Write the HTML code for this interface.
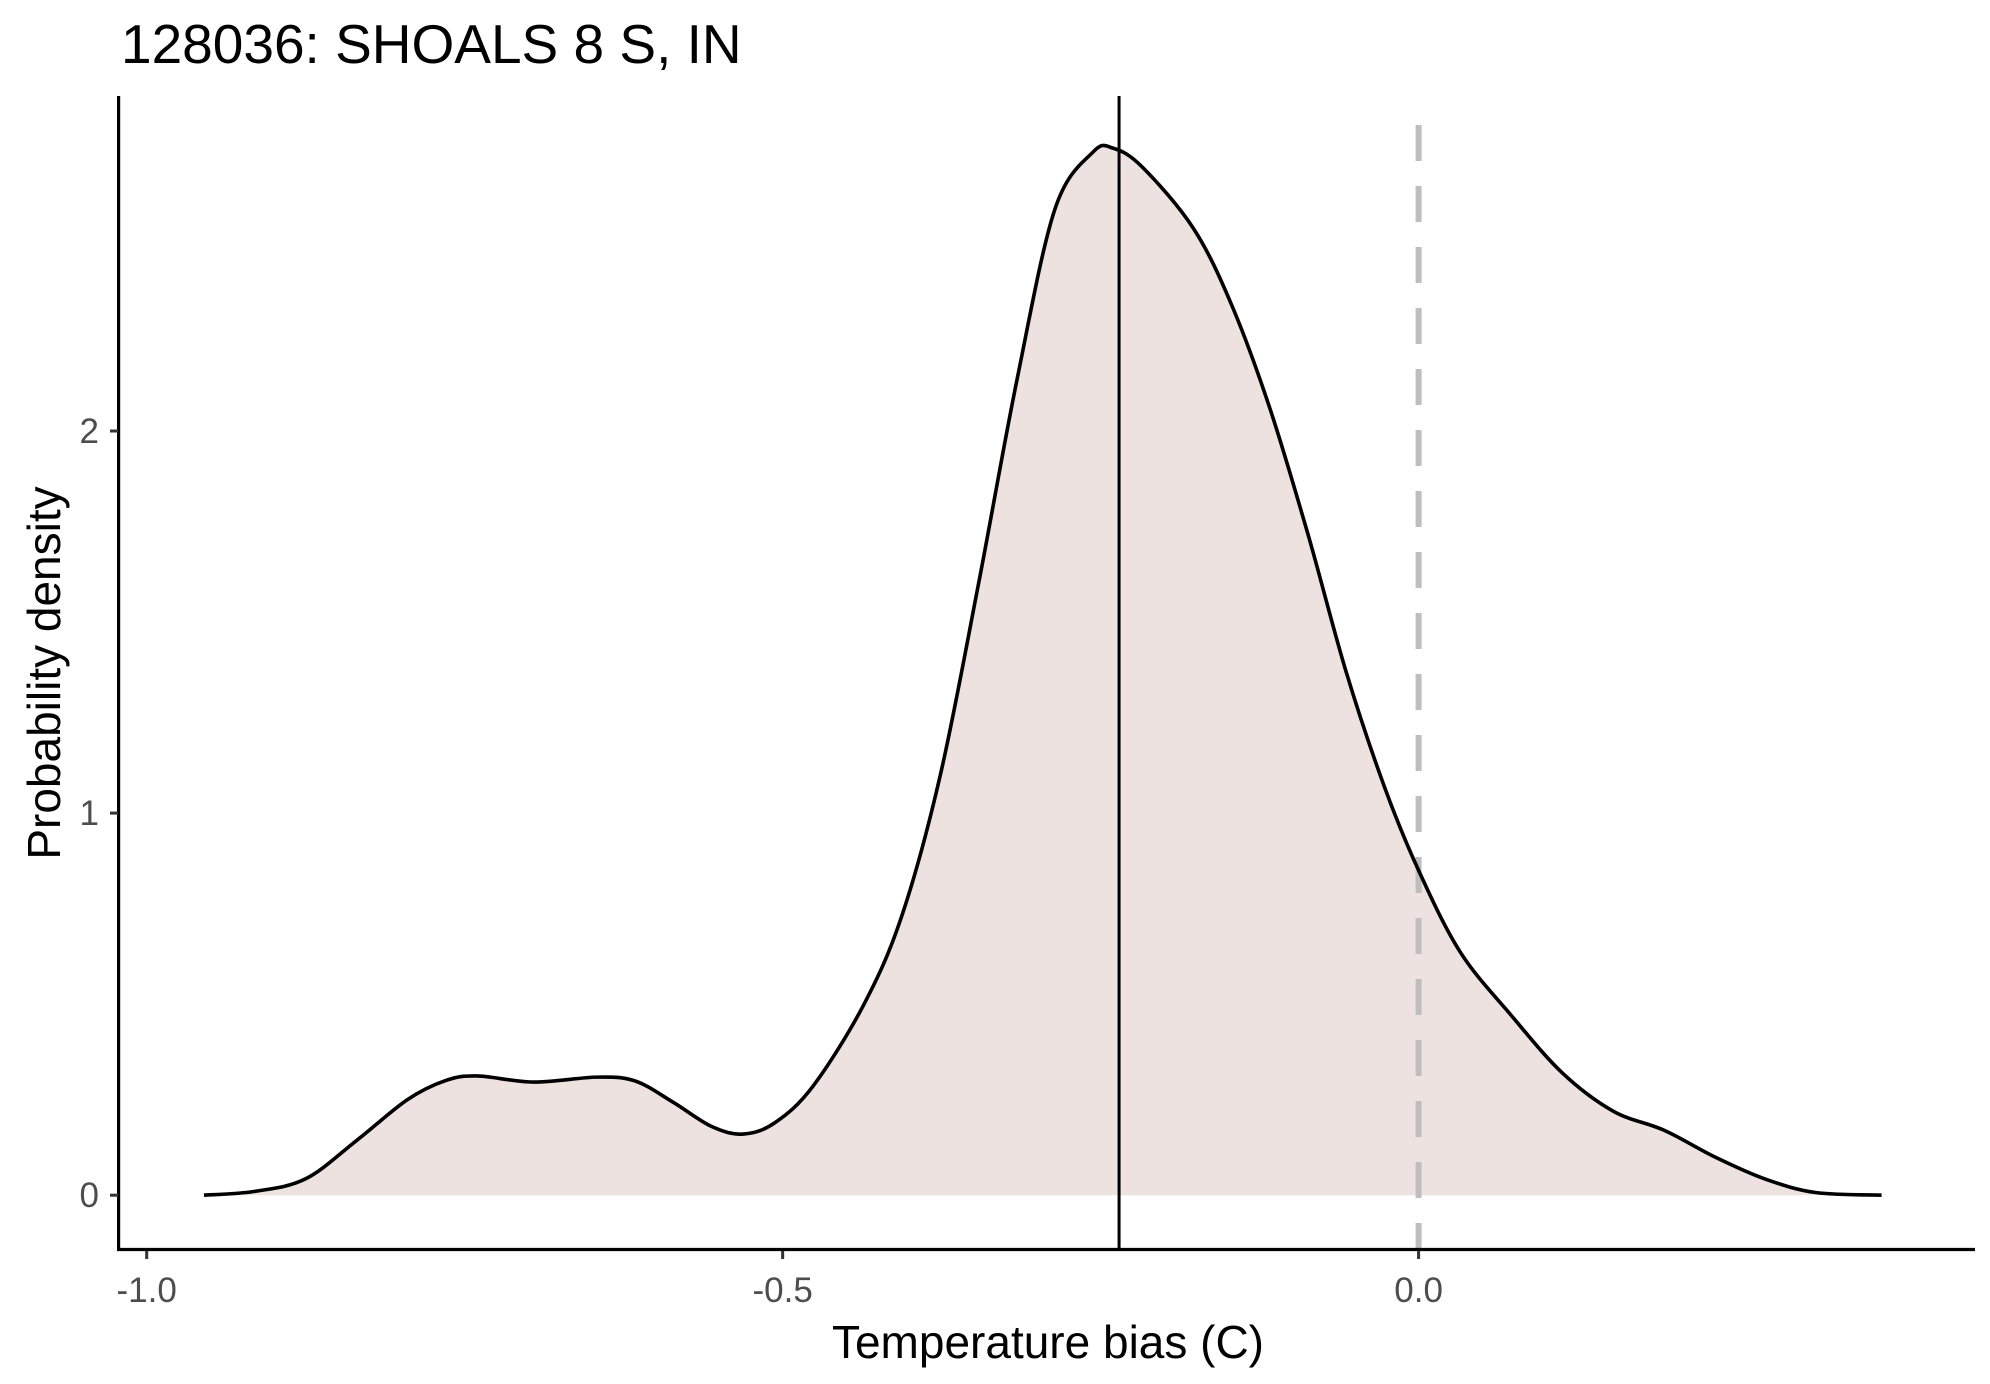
<!DOCTYPE html>
<html><head><meta charset="utf-8"><style>
html,body{margin:0;padding:0;background:#fff;}
svg{display:block;font-family:"Liberation Sans",Arial,sans-serif;}
</style></head><body>
<svg id="chart" width="1990" height="1384" viewBox="0 0 1990 1384">
<text x="121" y="63" font-size="55" fill="#000">128036: SHOALS 8 S, IN</text>
<text x="1048" y="1358" font-size="46" text-anchor="middle" fill="#000">Temperature bias (C)</text>
<text transform="translate(60,673) rotate(-90)" font-size="46" text-anchor="middle" fill="#000">Probability density</text>
<g id="plot"></g>
</svg>
<script>
const densX=[-0.955,-0.915,-0.875,-0.835,-0.795,-0.765,-0.74,-0.696,-0.646,-0.616,-0.586,-0.556,-0.531,-0.506,-0.476,-0.436,-0.406,-0.376,-0.346,-0.316,-0.286,-0.256,-0.24,-0.217,-0.177,-0.147,-0.117,-0.087,-0.057,-0.027,0,0.033,0.073,0.113,0.153,0.193,0.233,0.272,0.312,0.364];
const densY=[0,0.01,0.043,0.143,0.25,0.30,0.312,0.296,0.309,0.299,0.243,0.18,0.16,0.19,0.286,0.50,0.734,1.10,1.60,2.13,2.58,2.73,2.74,2.69,2.53,2.33,2.06,1.73,1.37,1.07,0.85,0.635,0.47,0.32,0.22,0.17,0.10,0.043,0.007,0];
const xTicks=[-1.0,-0.5,0.0];
const xTickLabels=["-1.0","-0.5","0.0"];
const yTicks=[0,1,2];
const yTickLabels=["0","1","2"];
const meanValue=-0.2355;
const refValue=0;

const NS="http://www.w3.org/2000/svg";
const g=document.getElementById('plot');
const xs=v=>1418.6+v*1271.9;
const ys=v=>1195.2-v*382.1;
function mk(t,a){const e=document.createElementNS(NS,t);for(const k in a)e.setAttribute(k,a[k]);g.appendChild(e);return e;}

const pts=densX.map((x,i)=>[xs(x),ys(densY[i])]);
let d="M"+pts[0][0]+","+pts[0][1];
for(let i=0;i<pts.length-1;i++){
  const p0=pts[Math.max(0,i-1)],p1=pts[i],p2=pts[i+1],p3=pts[Math.min(pts.length-1,i+2)];
  const c1=[p1[0]+(p2[0]-p0[0])/6,p1[1]+(p2[1]-p0[1])/6];
  const c2=[p2[0]-(p3[0]-p1[0])/6,p2[1]-(p3[1]-p1[1])/6];
  d+=" C"+c1[0]+","+c1[1]+" "+c2[0]+","+c2[1]+" "+p2[0]+","+p2[1];
}
const area=mk('path',{d:d+" L"+pts[pts.length-1][0]+","+ys(0)+" L"+pts[0][0]+","+ys(0)+" Z",fill:"#EDE2DF",stroke:"none"});


const ref=mk('line',{x1:xs(refValue),x2:xs(refValue),y1:125,y2:1249,stroke:"#bebebe","stroke-width":6,"stroke-dasharray":"36,25"});


const line=mk('path',{d:d,fill:"none",stroke:"#000","stroke-width":3.6});


const mean=mk('line',{x1:xs(meanValue),x2:xs(meanValue),y1:96,y2:1249,stroke:"#000","stroke-width":3});



const ya=mk('line',{x1:118.6,x2:118.6,y1:96,y2:1251,stroke:"#000","stroke-width":3.2});


const xa=mk('line',{x1:117,x2:1975,y1:1249.5,y2:1249.5,stroke:"#000","stroke-width":3.2});



xTicks.forEach((v,i)=>{
  const t=mk('line',{x1:xs(v),x2:xs(v),y1:1251,y2:1259,stroke:"#333","stroke-width":3});
  
  
  const l=mk('text',{x:xs(v),y:1302,"font-size":35,"text-anchor":"middle",fill:"#4d4d4d"});
  l.textContent=xTickLabels[i];
  
  
});
yTicks.forEach((v,i)=>{
  const t=mk('line',{x1:110,x2:118,y1:ys(v),y2:ys(v),stroke:"#333","stroke-width":3});
  
  
  const l=mk('text',{x:99,y:ys(v)+12,"font-size":35,"text-anchor":"end",fill:"#4d4d4d"});
  l.textContent=yTickLabels[i];
  
  
});
</script>
</body></html>
